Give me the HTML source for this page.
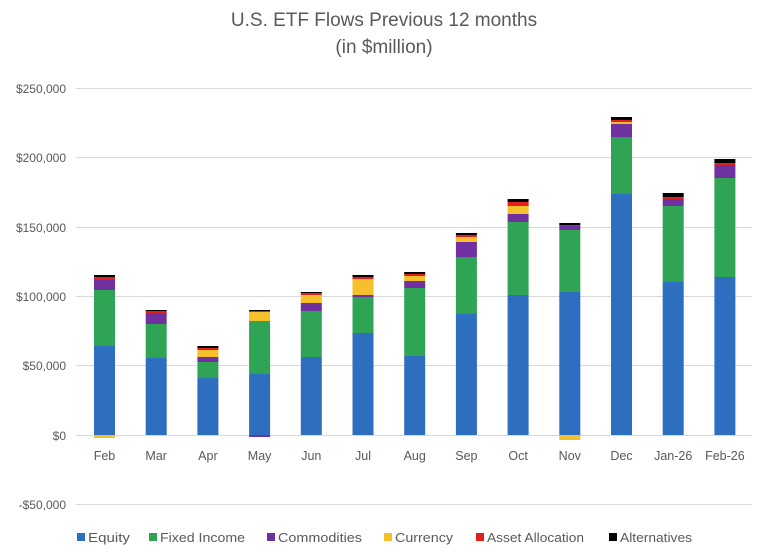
<!DOCTYPE html>
<html><head><meta charset="utf-8"><style>
body{margin:0;background:#fff;}
svg{display:block;font-family:"Liberation Sans",sans-serif;}
</style></head><body>
<svg id="c" width="768" height="560" viewBox="0 0 768 560">
<rect width="768" height="560" fill="#fff"/>
<text x="384" y="26" text-anchor="middle" font-size="19" fill="#595959">U.S. ETF Flows Previous 12 months</text>
<text x="384" y="53" text-anchor="middle" font-size="19" fill="#595959">(in $million)</text>
<g stroke="#d9d9d9" stroke-width="1">
<line x1="76" x2="752" y1="88.5" y2="88.5"/>
<line x1="76" x2="752" y1="157.5" y2="157.5"/>
<line x1="76" x2="752" y1="227.5" y2="227.5"/>
<line x1="76" x2="752" y1="296.5" y2="296.5"/>
<line x1="76" x2="752" y1="365.5" y2="365.5"/>
<line x1="76" x2="752" y1="435.5" y2="435.5"/>
<line x1="76" x2="752" y1="504.5" y2="504.5"/>
</g>
<g font-size="12" fill="#595959" text-anchor="end">
<text x="66" y="93">$250,000</text>
<text x="66" y="162">$200,000</text>
<text x="66" y="232">$150,000</text>
<text x="66" y="301">$100,000</text>
<text x="66" y="370">$50,000</text>
<text x="66" y="440">$0</text>
<text x="66" y="509">-$50,000</text>
</g>
<g id="bars"></g>
<g font-size="12.5" fill="#595959" text-anchor="middle">
<text x="104.5" y="460">Feb</text><text x="156.2" y="460">Mar</text><text x="207.9" y="460">Apr</text>
<text x="259.6" y="460">May</text><text x="311.3" y="460">Jun</text><text x="363" y="460">Jul</text>
<text x="414.7" y="460">Aug</text><text x="466.4" y="460">Sep</text><text x="518.1" y="460">Oct</text>
<text x="569.8" y="460">Nov</text><text x="621.5" y="460">Dec</text><text x="673.2" y="460">Jan-26</text>
<text x="724.9" y="460">Feb-26</text>
</g>
<g font-size="13" fill="#595959">
<rect x="77" y="533" width="8" height="8" fill="#2e6ebf"/><text x="88" y="542" textLength="42" lengthAdjust="spacingAndGlyphs">Equity</text>
<rect x="149" y="533" width="8" height="8" fill="#2ea454"/><text x="160" y="542" textLength="85" lengthAdjust="spacingAndGlyphs">Fixed Income</text>
<rect x="267" y="533" width="8" height="8" fill="#7030a0"/><text x="278" y="542" textLength="84" lengthAdjust="spacingAndGlyphs">Commodities</text>
<rect x="384" y="533" width="8" height="8" fill="#f5c02b"/><text x="395" y="542" textLength="58" lengthAdjust="spacingAndGlyphs">Currency</text>
<rect x="476" y="533" width="8" height="8" fill="#e02020"/><text x="487" y="542" textLength="97" lengthAdjust="spacingAndGlyphs">Asset Allocation</text>
<rect x="609" y="533" width="8" height="8" fill="#000"/><text x="620" y="542" textLength="72" lengthAdjust="spacingAndGlyphs">Alternatives</text>
</g>
</svg>
<script>
var cols=["#2e6ebf","#2ea454","#7030a0","#f5c02b","#e02020","#000"];
var d=[
[346,290,280,280,277,275,[[3,438]]],
[358,324,313,313,311,310,[]],
[378,362,357,350,348,346,[]],
[374,321,321,312,311,310,[[2,437]]],
[357,311,303,295,293,292,[]],
[333,297,295,279,277,275,[]],
[356,288,281,276,274,272,[]],
[314,257,242,237,235,233,[]],
[295,222,214,206,202,199,[]],
[292,230,226,226,225,223,[[3,440]]],
[194,137,124,122,120,117,[]],
[282,206,199,199,197,193,[]],
[277,178,165,165,163,159,[]]];
var g=document.getElementById("bars"),s="";
d.forEach(function(b,i){var cx=104.5+i*51.7,x=cx-10.5,base=435;
for(var k=0;k<6;k++){var h=base-b[k];if(h>0)s+='<rect x="'+x+'" y="'+b[k]+'" width="21" height="'+h+'" fill="'+cols[k]+'"/>';base=b[k];}
b[6].forEach(function(n){s+='<rect x="'+x+'" y="435" width="21" height="'+(n[1]-435)+'" fill="'+cols[n[0]]+'"/>';});
});
g.innerHTML=s;
</script>
</body></html>
